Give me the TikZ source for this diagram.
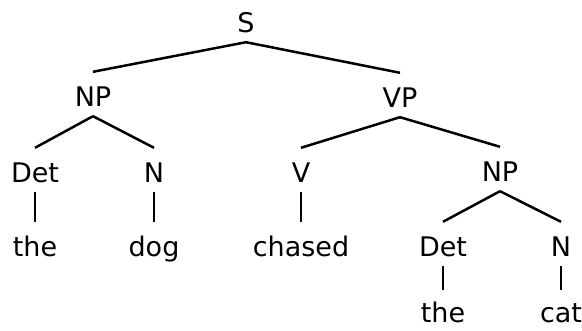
\documentclass[tikz,border=0pt]{standalone}
\usepackage{fontspec}
\setmainfont{DejaVu Sans}
\begin{document}
\begin{tikzpicture}[x=1pt,y=1pt,
  lab/.style={font=\fontsize{27}{27}\selectfont, anchor=base, text height=26pt, text depth=0pt, inner xsep=0pt, inner ysep=9pt},
  leaf/.style={lab, inner ysep=0pt, text height=33pt},
  br/.style={line width=2.5pt}]
\useasboundingbox (0,0) rectangle (582,-331);
\node[lab] (S) at (246,-33) {S};
\node[lab] (NP1) at (93,-107) {NP};
\node[lab] (VP) at (400,-108) {VP};
\node[lab] (Det1) at (35,-183) {Det};
\node[lab] (N1) at (154,-183) {N};
\node[lab] (V) at (301,-183) {V};
\node[lab] (NP2) at (500,-182) {NP};
\node[lab] (the1) at (35,-257) {the};
\node[lab] (dog) at (154,-257) {dog};
\node[lab] (chased) at (301,-257) {chased};
\node[lab] (Det2) at (443,-257) {Det};
\node[lab] (N2) at (561,-257) {N};
\node[leaf] (the2) at (443,-323) {the};
\node[leaf] (cat) at (561,-323) {cat};
\draw[br] (S.south) -- (NP1.north);
\draw[br] (S.south) -- (VP.north);
\draw[br] (NP1.south) -- (Det1.north);
\draw[br] (NP1.south) -- (N1.north);
\draw[br] (VP.south) -- (V.north);
\draw[br] (VP.south) -- (NP2.north);
\draw[br] (NP2.south) -- (Det2.north);
\draw[br] (NP2.south) -- (N2.north);
\draw[br] (Det1.south) -- (the1.north);
\draw[br] (N1.south) -- (dog.north);
\draw[br] (V.south) -- (chased.north);
\draw[br] (Det2.south) -- (the2.north);
\draw[br] (N2.south) -- (cat.north);
\end{tikzpicture}
\end{document}
